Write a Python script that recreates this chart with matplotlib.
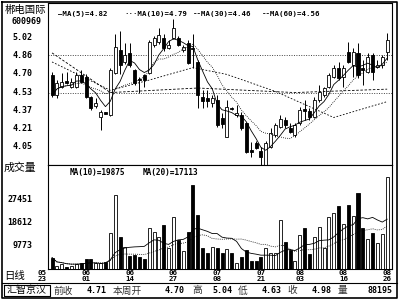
import matplotlib
matplotlib.use("Agg")
import matplotlib.pyplot as plt
import numpy as np
import pandas as pd

plt.rcParams['font.family'] = ['Noto Sans CJK SC', 'DejaVu Sans']

# ---------------- data ----------------
opens = [4.685, 4.509, 4.579, 4.632, 4.580, 4.579, 4.685, 4.667, 4.491, 4.410,
         4.315, 4.355, 4.332, 4.703, 4.905, 4.800, 4.879, 4.729, 4.650, 4.685,
         4.703, 4.949, 4.976, 5.011, 4.923, 5.011, 5.011, 4.905, 4.967, 4.920,
         4.800, 4.491, 4.482, 4.438, 4.464, 4.306, 4.138, 4.390, 4.330, 4.332,
         4.262, 4.020, 4.085, 4.015, 3.891, 4.050, 4.156, 4.226, 4.288, 4.218,
         4.156, 4.262, 4.385, 4.367, 4.315, 4.464, 4.508, 4.579, 4.667, 4.747,
         4.667, 4.888, 4.773, 4.879, 4.750, 4.711, 4.861, 4.755, 4.773, 4.888]
highs = [4.711, 4.641, 4.703, 4.711, 4.660, 4.711, 4.730, 4.690, 4.500, 4.480,
         4.376, 4.360, 4.750, 5.050, 5.070, 4.970, 4.967, 4.740, 4.667, 4.690,
         4.990, 5.030, 5.100, 5.050, 4.990, 5.180, 5.030, 4.950, 4.990, 5.050,
         4.820, 4.550, 4.550, 4.510, 4.510, 4.350, 4.464, 4.400, 4.420, 4.360,
         4.270, 4.094, 4.100, 4.050, 4.100, 4.218, 4.260, 4.332, 4.315, 4.262,
         4.262, 4.403, 4.464, 4.394, 4.491, 4.597, 4.579, 4.703, 4.773, 4.800,
         4.773, 4.976, 4.923, 4.967, 4.817, 4.879, 4.879, 4.817, 4.861, 5.055]
lows = [4.491, 4.482, 4.570, 4.605, 4.570, 4.570, 4.610, 4.480, 4.380, 4.390,
        4.200, 4.340, 4.320, 4.690, 4.690, 4.780, 4.755, 4.600, 4.526, 4.579,
        4.690, 4.930, 4.960, 4.900, 4.910, 5.000, 4.940, 4.890, 4.780, 4.750,
        4.390, 4.394, 4.400, 4.400, 4.226, 4.218, 4.138, 4.380, 4.310, 4.200,
        3.997, 3.962, 4.030, 3.890, 3.890, 4.041, 4.140, 4.218, 4.218, 4.173,
        4.138, 4.244, 4.288, 4.288, 4.306, 4.447, 4.491, 4.570, 4.658, 4.641,
        4.579, 4.791, 4.667, 4.658, 4.597, 4.703, 4.641, 4.747, 4.747, 4.817]
closes = [4.509, 4.614, 4.623, 4.614, 4.620, 4.685, 4.623, 4.491, 4.394, 4.440,
          4.359, 4.345, 4.729, 4.932, 4.773, 4.860, 4.773, 4.614, 4.645, 4.641,
          4.976, 5.011, 5.038, 4.923, 4.949, 5.099, 4.949, 4.932, 4.791, 4.910,
          4.509, 4.456, 4.456, 4.482, 4.244, 4.253, 4.403, 4.385, 4.350, 4.218,
          4.006, 4.010, 4.041, 3.962, 4.085, 4.173, 4.244, 4.297, 4.244, 4.182,
          4.244, 4.376, 4.367, 4.315, 4.464, 4.535, 4.570, 4.685, 4.747, 4.658,
          4.747, 4.800, 4.888, 4.685, 4.730, 4.844, 4.711, 4.773, 4.844, 4.993]
volumes = [5270, 2000, 2800, 1690, 2070, 2840, 3220, 4760, 4600, 3350,
           3100, 3730, 14870, 29360, 13340, 9500, 5920, 6300, 5400, 4600,
           16560, 15260, 13200, 17830, 9000, 20900, 12000, 8000, 15000, 33200,
           21670, 8990, 7070, 9380, 8990, 7070, 8600, 7070, 3220, 5530,
           8220, 3990, 3990, 5530, 8990, 7000, 7000, 19750, 11300, 8220,
           3990, 14000, 16680, 6690, 13220, 17060, 9000, 20900, 22440, 25130,
           18220, 25520, 21290, 30130, 16680, 12450, 14750, 10910, 14370, 36280]

ma30_idx = [0, 12, 20, 29, 36, 46, 58, 69]
ma30_val = [4.80, 4.55, 4.64, 4.75, 4.69, 4.54, 4.31, 4.45]
ma60_idx = [0, 12, 30, 50, 69]
ma60_val = [4.88, 4.53, 4.57, 4.53, 4.56]

price_ticks = [5.02, 4.86, 4.70, 4.53, 4.37, 4.21, 4.05]
price_ref_lines = [4.86, 4.53]
vol_ticks = [27451, 18612, 9773]
date_idx = [-2, 7, 16, 25, 34, 43, 51, 60, 69]
date_labels = ['05\n23', '06\n01', '06\n14', '06\n27', '07\n08', '07\n21', '08\n03', '08\n16', '08\n26']

legend_price = ['—MA(5)=4.82', '···MA(10)=4.79', '--MA(30)=4.46', '--MA(60)=4.56']
legend_vol = ['MA(10)=19875', 'MA(20)=17113']
stock_name = '郴电国际'
stock_code = '600969'
info_labels = ['前收', '本周开', '高', '低', '收', '量']
info_values = ['4.71', '4.70', '5.04', '4.63', '4.98', '88195']

# ---------------- figure ----------------
fig = plt.figure(figsize=(4, 3), dpi=100)
ax = fig.add_axes([0.12, 0.45, 0.86, 0.54])
axv = fig.add_axes([0.12, 0.10333, 0.86, 0.34667])
ov = fig.add_axes([0, 0, 1, 1], zorder=10)
ov.set_xlim(0, 400); ov.set_ylim(300, 0); ov.axis('off')

x = np.arange(len(closes))
o = np.array(opens); c = np.array(closes)
up = c >= o
cols = np.where(up, 'white', 'black')

for a in (ax, axv):
    a.set_xlim(-0.83, 70.0)
    a.set_xticks([]); a.set_yticks([])
    for s in a.spines.values():
        s.set_linewidth(0.8)
        s.set_color('black')

# price panel
ax.set_ylim(3.891, 5.32)
for p in price_ref_lines:
    ax.axhline(p, color='#444444', lw=0.7, ls=(0, (1, 1.5)), zorder=1)
ax.vlines(x, lows, highs, color='black', lw=0.7, zorder=2)
heights = np.maximum(np.abs(c - o), 0.006)
ax.bar(x, heights, bottom=np.minimum(o, c), width=0.62, color=cols,
       edgecolor='black', linewidth=0.6, zorder=3)
ma5 = pd.Series(closes).rolling(5, min_periods=1).mean()
ma10 = pd.Series(closes).rolling(10, min_periods=1).mean()
ax.plot(x, ma5, color='black', lw=0.6, zorder=4)
ax.plot(x, ma10, color='black', lw=0.6, ls=(0, (1, 1.5)), zorder=4)
ax.plot(ma30_idx, ma30_val, color='black', lw=0.6, ls=(0, (2, 2)), zorder=4)
ax.plot(ma60_idx, ma60_val, color='black', lw=0.6, ls=(0, (3, 2)), zorder=4)

# volume panel
axv.set_ylim(900, 40900)
axv.bar(x, volumes, width=0.62, color=cols, edgecolor='black', linewidth=0.6, zorder=3)
vma10 = pd.Series(volumes).rolling(10, min_periods=1).mean()
vma20 = pd.Series(volumes).rolling(20, min_periods=1).mean()
axv.plot(x, vma10, color='black', lw=0.6, zorder=4)
axv.plot(x, vma20, color='black', lw=0.6, ls=(0, (1, 1.5)), zorder=4)

mono = dict(family='DejaVu Sans Mono', fontweight='bold')

# tick labels
for p in price_ticks:
    ax.text(-0.045, p, f'{p:.2f}', transform=ax.get_yaxis_transform(),
            ha='right', va='center', fontsize=6, clip_on=False, **mono)
for v in vol_ticks:
    axv.text(-0.045, v, str(v), transform=axv.get_yaxis_transform(),
             ha='right', va='center', fontsize=6, clip_on=False, **mono)
for i, lab in zip(date_idx, date_labels):
    axv.text(i, -0.01, lab, transform=axv.get_xaxis_transform(), ha='center',
             va='top', fontsize=5.4, linespacing=0.9, clip_on=False, **mono)

# legends
lx = [58, 124, 193, 262]
for t, xx in zip(legend_price, lx):
    ov.text(xx, 14, t, ha='left', va='center', fontsize=5.3, **mono)
for t, xx in zip(legend_vol, [70, 143]):
    ov.text(xx, 173, t, ha='left', va='center', fontsize=5.6, **mono)

# left column texts
ov.text(25, 10, stock_name, ha='center', va='center', fontsize=7.5)
ov.text(26, 21, stock_code, ha='center', va='center', fontsize=6, **mono)
ov.text(4, 168, '成交量', ha='left', va='center', fontsize=7.8)
ov.text(4, 276, '日线', ha='left', va='center', fontsize=7.5)

# borders
ov.plot([2, 397, 397, 2, 2], [2, 2, 298, 298, 2], color='black', lw=1.2)
ov.plot([2, 397], [283, 283], color='black', lw=0.8)
ov.plot([4, 50, 50, 4, 4], [285, 285, 296, 296, 285], color='black', lw=0.8)

# bottom info row
ov.text(27, 290.5, '汇智京汉', ha='center', va='center', fontsize=7.2)
lab_x = [53, 113, 192, 238, 287, 338]
val_x = [107, 185, 232, 282, 332, 392]
for t, xx in zip(info_labels, lab_x):
    ov.text(xx, 290.5, t, ha='left', va='center', fontsize=7, color='#333333')
for t, xx in zip(info_values, val_x):
    ov.text(xx, 290.5, t, ha='right', va='center', fontsize=6, **mono)

fig.savefig('out.png', dpi=100)
